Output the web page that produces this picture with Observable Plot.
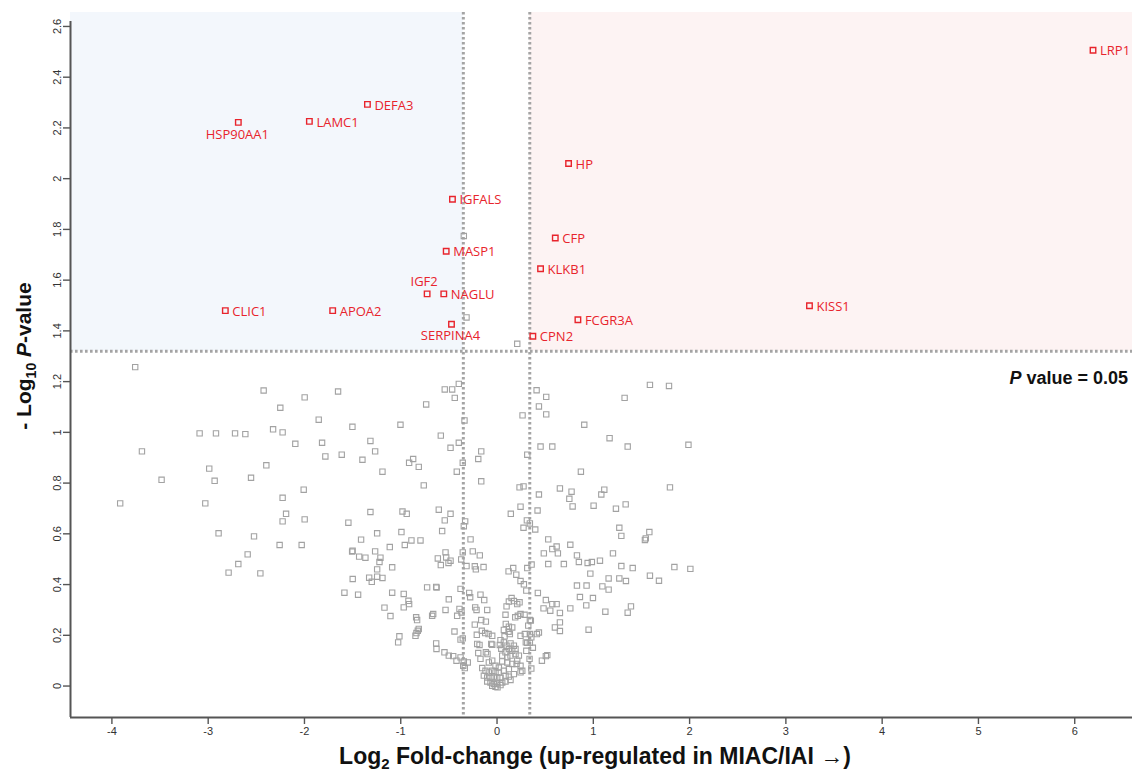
<!DOCTYPE html>
<html><head><meta charset="utf-8">
<script src="https://cdn.jsdelivr.net/npm/d3@7"></script>
<script src="https://cdn.jsdelivr.net/npm/@observablehq/plot@0.6"></script>
<style>body{margin:0;background:#fff;} svg{display:block;background:#fff;overflow:visible;}</style>
</head><body><div id="chart"></div>
<script>
// ---------- data ----------
const xTicks = [-4, -3, -2, -1, 0, 1, 2, 3, 4, 5, 6];
const yTicks = [0, 0.2, 0.4, 0.6, 0.8, 1, 1.2, 1.4, 1.6, 1.8, 2, 2.2, 2.4, 2.6];
const xDomain = [-4.43, 6.6];
const yDomain = [-0.124, 2.655];
const fcCutoffs = [-0.35, 0.34];
const pCutoff = 1.32;
const pLabel = "0.05";

const sigGenes = ["LRP1","DEFA3","LAMC1","HSP90AA1","HP","IGFALS","CFP","MASP1","KLKB1","IGF2","NAGLU","SERPINA4","FCGR3A","CPN2","CLIC1","APOA2","KISS1"];
const sigLog2FC = [6.190,-1.346,-1.949,-2.687,0.743,-0.463,0.605,-0.528,0.452,-0.726,-0.553,-0.473,0.840,0.372,-2.822,-1.707,3.245];
const sigNegLogP = [2.506,2.293,2.226,2.222,2.060,1.919,1.766,1.714,1.645,1.546,1.546,1.426,1.444,1.379,1.480,1.480,1.499];
const labelsBelow = ["HSP90AA1","SERPINA4"];
const labelsAbove = ["IGF2"];

const bgLog2FC = [
-3.758,-2.424,-1.998,-1.651,-2.251,-1.852,-2.326,-2.227,-3.089,-2.919,-2.721,-2.614,-1.502,-2.095,-1.817,-1.315,-1.266,-1.613,-1.783,-1.398,
-3.688,-2.989,-2.396,-3.484,-2.933,-2.555,-1.190,-2.008,-3.914,-3.030,-2.227,-1.315,-2.191,-2.227,-1.998,-1.544,-2.892,-2.524,-1.245,-1.412,
-2.258,-2.029,-1.114,-1.505,-1.266,-2.590,-1.432,-1.367,-1.211,-1.221,-2.687,-2.788,-2.458,-1.245,-1.089,-1.499,-1.328,-1.301,-1.245,-1.190,
-1.585,-1.443,-1.089,-1.169,-1.107,-1.027,-1.014,-1.500,
-0.397,-0.543,-0.466,-0.439,-0.736,-0.338,-1.003,-0.584,-0.397,-0.483,-0.164,-0.195,-0.356,-0.871,-0.913,-0.813,-0.418,-0.164,-0.761,-0.982,
-0.938,-0.605,-0.483,-0.543,-0.331,-0.345,-0.570,-0.993,-0.275,-0.889,-0.795,-0.958,-0.356,-0.535,-0.252,-0.179,-0.615,-0.528,-0.483,-0.504,
-0.584,-0.372,-0.317,-0.231,-0.220,-0.140,-0.726,-0.632,-0.628,-0.379,-0.289,-0.969,-0.172,
0.411,0.511,1.325,0.435,0.265,0.511,0.906,1.169,0.452,0.574,1.357,0.314,0.871,0.234,0.275,0.653,0.435,0.774,0.751,1.114,
1.083,0.785,1.003,0.244,0.421,0.143,1.235,1.336,0.310,0.341,0.275,0.397,1.270,1.291,0.532,0.574,0.619,0.632,0.761,0.486,
0.830,1.204,0.359,0.532,0.694,0.850,0.941,0.985,1.069,1.291,0.314,0.120,0.168,0.200,0.969,0.244,0.279,1.159,1.270,1.339,
0.830,0.930,1.094,1.159,0.304,0.424,
1.588,1.786,1.988,1.796,1.582,1.536,1.545,1.409,1.842,2.008,1.588,1.682,
0.861,0.996,0.927,0.761,1.125,1.357,1.391,0.653,0.653,0.601,0.653,0.951,0.507,0.574,0.619,0.483,0.553,0.435,0.414,0.522,
0.507,0.466,0.372,0.304,0.314,0.356,0.338,
-0.920,-0.913,-0.969,-0.840,-0.830,-0.813,-0.823,-0.837,-0.847,-0.674,-0.663,-0.535,-0.501,-0.414,-0.390,-0.369,-0.442,-0.379,-0.356,-0.632,
-0.629,-0.546,-0.501,-0.455,-0.421,-0.379,-0.345,-0.304,-0.335,-0.227,-0.213,-0.102,-0.279,-0.133,-0.231,-0.164,-0.116,-0.210,-0.158,-0.123,
-0.088,-0.206,-0.182,-0.195,-0.116,-0.099,-0.050,0.036,0.029,0.044,0.091,0.120,0.133,0.078,0.088,0.189,0.216,0.244,0.099,0.123,
0.151,0.175,0.210,0.234,0.286,0.341,0.324,0.351,0.244,0.289,0.341,0.299,0.341,
-0.154,-0.120,-0.085,-0.050,-0.016,0.019,0.071,0.123,-0.137,-0.102,-0.068,-0.033,0.002,0.036,0.088,0.123,-0.102,-0.068,-0.033,0.002,
0.054,0.088,-0.050,-0.016,0.005,0.036,0.140,0.175,0.244,
-0.060,0.071,0.099,0.140,0.175,0.123,0.158,0.192,0.088,0.054,0.106,0.140,0.192,0.227,0.210,
-0.172,-0.085,-0.050,-0.016,0.019,0.054,0.106,0.158,0.203,0.244,0.262,
-0.050,0.071,0.123,0.158,0.356,-0.351,
-0.345,-0.317,0.210
];
const bgNegLogP = [
1.257,1.165,1.138,1.161,1.097,1.050,1.012,1.000,0.996,0.996,0.996,0.993,1.022,0.955,0.959,0.966,0.925,0.912,0.905,0.892,
0.925,0.857,0.870,0.813,0.809,0.821,0.845,0.774,0.720,0.720,0.742,0.686,0.679,0.649,0.657,0.644,0.602,0.590,0.602,0.577,
0.556,0.556,0.548,0.530,0.531,0.519,0.510,0.506,0.506,0.489,0.481,0.447,0.444,0.460,0.468,0.422,0.427,0.411,0.431,0.426,
0.368,0.360,0.368,0.309,0.276,0.172,0.196,0.533,
1.191,1.169,1.169,1.136,1.110,1.047,1.030,0.987,0.959,0.939,0.925,0.895,0.880,0.895,0.880,0.864,0.845,0.807,0.791,0.688,
0.679,0.695,0.679,0.653,0.649,0.630,0.611,0.607,0.578,0.574,0.574,0.556,0.527,0.527,0.531,0.515,0.503,0.507,0.494,0.485,
0.477,0.499,0.473,0.472,0.460,0.469,0.389,0.391,0.388,0.383,0.367,0.363,0.360,
1.166,1.140,1.136,1.102,1.067,1.071,1.030,0.977,0.944,0.944,0.944,0.912,0.845,0.783,0.787,0.779,0.755,0.766,0.738,0.774,
0.755,0.708,0.711,0.707,0.692,0.679,0.699,0.716,0.653,0.641,0.624,0.617,0.624,0.592,0.578,0.540,0.550,0.523,0.557,0.523,
0.515,0.523,0.479,0.481,0.481,0.489,0.485,0.489,0.494,0.473,0.465,0.452,0.465,0.439,0.443,0.414,0.401,0.424,0.424,0.414,
0.396,0.396,0.393,0.380,0.376,0.367,
1.187,1.183,0.951,0.783,0.607,0.576,0.582,0.465,0.469,0.462,0.435,0.415,
0.351,0.347,0.318,0.306,0.293,0.289,0.314,0.288,0.251,0.231,0.217,0.222,0.339,0.323,0.323,0.306,0.297,0.211,0.205,0.122,
0.118,0.100,0.151,0.139,0.170,0.069,0.107,
0.336,0.323,0.310,0.271,0.260,0.225,0.218,0.209,0.198,0.277,0.284,0.300,0.342,0.277,0.304,0.290,0.215,0.183,0.188,0.168,
0.146,0.133,0.120,0.118,0.100,0.113,0.097,0.093,0.071,0.310,0.300,0.300,0.350,0.339,0.242,0.260,0.254,0.202,0.218,0.209,
0.205,0.166,0.162,0.130,0.133,0.126,0.163,0.181,0.162,0.147,0.245,0.214,0.205,0.196,0.281,0.271,0.277,0.284,0.314,0.333,
0.347,0.335,0.323,0.330,0.281,0.260,0.238,0.258,0.198,0.205,0.205,0.172,0.170,
0.071,0.060,0.054,0.060,0.054,0.054,0.060,0.067,0.041,0.034,0.032,0.037,0.034,0.032,0.041,0.037,0.018,0.014,0.008,0.010,
0.014,0.018,0.001,-0.003,-0.005,0.004,0.024,0.047,0.054,
0.166,0.172,0.159,0.168,0.159,0.146,0.139,0.146,0.133,0.120,0.113,0.120,0.126,0.120,0.100,
0.107,0.093,0.100,0.080,0.073,0.097,0.093,0.087,0.087,0.080,0.060,
0.198,0.221,0.234,0.231,0.192,0.080,
1.774,1.453,1.349
];

// ---------- build ----------
const bg = bgLog2FC.map((x, i) => ({x, y: bgNegLogP[i]}));
const sig = sigGenes.map((g, i) => ({gene: g, x: sigLog2FC[i], y: sigNegLogP[i]}));
const sigRight = sig.filter(d => !labelsBelow.includes(d.gene) && !labelsAbove.includes(d.gene));
const sigBelow = sig.filter(d => labelsBelow.includes(d.gene));
const sigAbove = sig.filter(d => labelsAbove.includes(d.gene));

const W = 1132, H = 777;
const red = "#e8242c";
const grey = "#a2a2a2";
const labelFont = "'Open Sans', 'Noto Sans', sans-serif";

const plot = Plot.plot({
  width: W, height: H,
  marginLeft: 70, marginRight: 0, marginTop: 12, marginBottom: 60,
  x: {domain: xDomain},
  y: {domain: yDomain},
  style: {fontFamily: "'Liberation Sans', Arial, sans-serif", background: "#fff"},
  marks: [
    Plot.rect([{x1: xDomain[0], x2: fcCutoffs[0], y1: pCutoff, y2: yDomain[1]}],
      {x1: "x1", x2: "x2", y1: "y1", y2: "y2", fill: "#f3f7fc"}),
    Plot.rect([{x1: fcCutoffs[1], x2: xDomain[1], y1: pCutoff, y2: yDomain[1]}],
      {x1: "x1", x2: "x2", y1: "y1", y2: "y2", fill: "#fdf3f3"}),
    Plot.ruleY([pCutoff], {stroke: "#a4a4a4", strokeWidth: 3, strokeDasharray: "2.6,2.4"}),
    Plot.ruleX(fcCutoffs, {stroke: "#a4a4a4", strokeWidth: 3, strokeDasharray: "2.6,2.4"}),
    Plot.dot(bg, {x: "x", y: "y", symbol: "square", r: 3.0, stroke: grey, strokeWidth: 1.1, fill: "none"}),
    Plot.dot(sig, {x: "x", y: "y", symbol: "square", r: 3.1, stroke: red, strokeWidth: 1.4, fill: "none"}),
    Plot.text(sigRight, {x: "x", y: "y", text: "gene", textAnchor: "start", dx: 7, dy: 1,
      fill: red, fontSize: 13, fontFamily: labelFont}),
    Plot.text(sigBelow, {x: "x", y: "y", text: "gene", textAnchor: "middle", dx: -1, dy: 12,
      fill: red, fontSize: 13, fontFamily: labelFont}),
    Plot.text(sigAbove, {x: "x", y: "y", text: "gene", textAnchor: "middle", dx: -3, dy: -12,
      fill: red, fontSize: 13, fontFamily: labelFont}),
    Plot.axisX({ticks: xTicks, tickFormat: d => String(d), tickSize: 7, tickPadding: 3,
      stroke: "#555", strokeWidth: 1.4, fill: "#333", fontSize: 11, label: null}),
    Plot.axisY({ticks: yTicks, tickFormat: d => String(d), tickSize: 7, tickPadding: 3, tickRotate: -90,
      stroke: "#555", strokeWidth: 1.4, fill: "#333", fontSize: 11, label: null}),
    Plot.ruleY([yDomain[0]], {stroke: "#555", strokeWidth: 2}),
    Plot.ruleX([xDomain[0]], {y1: yDomain[0], y2: 2.62, stroke: "#555", strokeWidth: 2})
  ]
});

const svg = d3.select(plot);
const ys = plot.scale("y");
const cx = 70 + (W - 70) / 2 - 6;

// x-axis title
const xt = svg.append("text")
  .attr("x", cx).attr("y", 764)
  .attr("text-anchor", "middle")
  .attr("font-family", "'Liberation Sans', Arial, sans-serif")
  .attr("font-size", 23).attr("font-weight", "bold").attr("fill", "#111");
xt.append("tspan").text("Log");
xt.append("tspan").attr("font-size", 15).attr("dy", 5).text("2");
xt.append("tspan").attr("dy", -5).text(" Fold-change (up-regulated in MIAC/IAI \u2192)");

// y-axis title
const yt = svg.append("text")
  .attr("transform", `translate(31, ${356}) rotate(-90)`)
  .attr("text-anchor", "middle")
  .attr("font-family", "'Liberation Sans', Arial, sans-serif")
  .attr("font-size", 21).attr("font-weight", "bold").attr("fill", "#111");
yt.append("tspan").text("- Log");
yt.append("tspan").attr("font-size", 14).attr("dy", 5).text("10");
yt.append("tspan").attr("dy", -5).text(" ");
yt.append("tspan").attr("font-style", "italic").text("P");
yt.append("tspan").text("-value");

// threshold annotation
const pt = svg.append("text")
  .attr("x", W - 4).attr("y", ys.apply(pCutoff) + 33)
  .attr("text-anchor", "end")
  .attr("font-family", "'Liberation Sans', Arial, sans-serif")
  .attr("font-size", 18).attr("font-weight", "bold").attr("fill", "#111");
pt.append("tspan").attr("font-style", "italic").text("P");
pt.append("tspan").text(" value = " + pLabel);

document.getElementById("chart").append(plot);
</script>
</body></html>
